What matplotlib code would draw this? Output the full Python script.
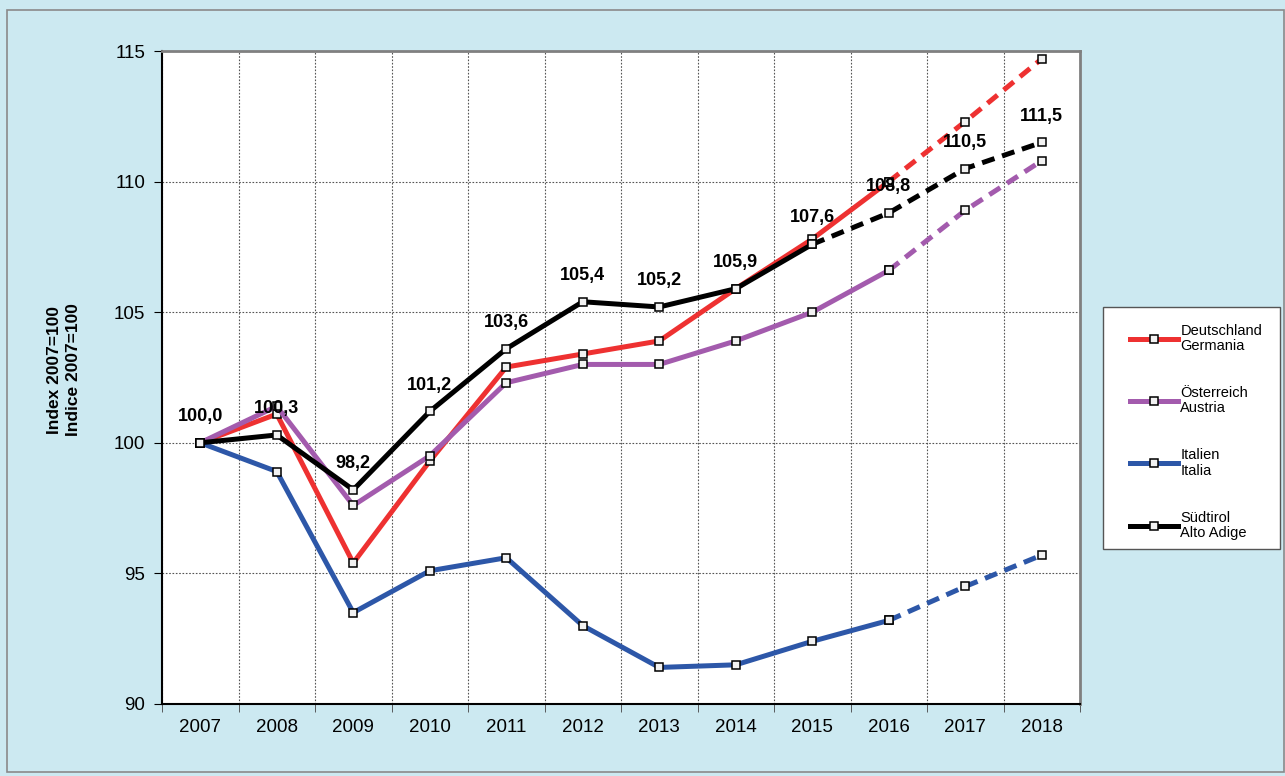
import matplotlib
matplotlib.use("Agg")
from matplotlib import pyplot as plt
from matplotlib.patches import Rectangle

years = ["2007", "2008", "2009", "2010", "2011", "2012",
         "2013", "2014", "2015", "2016", "2017", "2018"]

deutschland = [100.0, 101.1, 95.4, 99.3, 102.9, 103.4, 103.9, 105.9, 107.8, 110.0, 112.3, 114.7]
oesterreich = [100.0, 101.4, 97.6, 99.5, 102.3, 103.0, 103.0, 103.9, 105.0, 106.6, 108.9, 110.8]
italien = [100.0, 98.9, 93.5, 95.1, 95.6, 93.0, 91.4, 91.5, 92.4, 93.2, 94.5, 95.7]
suedtirol = [100.0, 100.3, 98.2, 101.2, 103.6, 105.4, 105.2, 105.9, 107.6, 108.8, 110.5, 111.5]

series_labels = ["Deutschland\nGermania", "Österreich\nAustria", "Italien\nItalia", "Südtirol\nAlto Adige"]
# last year with actual data (afterwards forecast, dashed)
last_actual = ["2016", "2016", "2016", "2015"]

colors = ["#EE3131", "#A35BAD", "#2D57A8", "#000000"]
BG = "#CCE9F1"
W, H = 1285, 776

plt.rcParams["font.family"] = ["Liberation Sans", "DejaVu Sans"]

fig = plt.figure(figsize=(W / 100, H / 100), dpi=100)
fig.patch.set_facecolor(BG)
# outer frame
fig.patches.append(Rectangle((7 / W, 4 / H), 1 - 8 / W, 1 - 14 / H,
                             transform=fig.transFigure, fill=False,
                             edgecolor="#8a8a8a", linewidth=1.2))
# legend box
fig.patches.append(Rectangle((1103 / W, 1 - 549 / H), 177 / W, 242 / H,
                             transform=fig.transFigure, facecolor="white",
                             edgecolor="#555555", linewidth=1.0, zorder=1))

ax = fig.add_axes([162 / W, 72 / H, 918 / W, 653 / H])
ax.set_facecolor("white")

x = list(range(len(years)))
marker_style = dict(marker="s", markersize=6, markerfacecolor="#f2f2f2",
                    markeredgecolor="black", markeredgewidth=1.1)

handles = []
all_series = [deutschland, oesterreich, italien, suedtirol]
for values, color, label, last in zip(all_series, colors, series_labels, last_actual):
    k = years.index(last)
    h, = ax.plot(x[:k + 1], values[:k + 1], color=color, linewidth=3.6,
                 label=label, zorder=3, **marker_style)
    ax.plot(x[k:], values[k:], color=color, linewidth=3.6, dashes=(2.6, 1.6),
            zorder=3, **marker_style)
    handles.append(h)

# value labels for Südtirol
for xi, v in zip(x, suedtirol):
    ax.annotate(f"{v:.1f}".replace(".", ","), (xi, v), xytext=(0, 19),
                textcoords="offset points", ha="center", va="center",
                fontsize=13, fontweight="bold", zorder=5)

ax.set_xlim(-0.5, len(years) - 0.5)
ax.set_ylim(90, 115)
ax.set_yticks([90, 95, 100, 105, 110, 115])
ax.set_xticks(x)
ax.set_xticklabels(years)
ax.set_xticks([i - 0.5 for i in range(len(years) + 1)], minor=True)
ax.tick_params(axis="x", which="major", length=0, pad=11, labelsize=13.5)
ax.tick_params(axis="x", which="minor", length=6, direction="out", color="#444")
ax.tick_params(axis="y", length=6, direction="out", pad=6, labelsize=13.5)

ax.grid(True, axis="x", which="minor", linestyle=(0, (1.5, 1.5)), color="#555", linewidth=0.8)
ax.grid(True, axis="y", which="major", linestyle=(0, (1.5, 1.5)), color="#555", linewidth=0.8)
ax.set_axisbelow(True)

for side in ["top", "right"]:
    ax.spines[side].set_color("#808080")
    ax.spines[side].set_linewidth(2)
for side in ["left", "bottom"]:
    ax.spines[side].set_color("black")
    ax.spines[side].set_linewidth(1.5)

fig.text(64 / W, 1 - 370 / H, "Index 2007=100\nIndice 2007=100", rotation=90,
         ha="center", va="center", fontsize=12.5, fontweight="bold",
         multialignment="center", linespacing=1.35)

leg = fig.legend(handles=handles, labels=series_labels, loc="upper left",
                 bbox_to_anchor=(1130 / W, 1 - 324 / H), borderaxespad=0,
                 fontsize=10.5, labelspacing=2.27, handlelength=3.3,
                 handletextpad=0.15, borderpad=0, frameon=False)
leg.set_zorder(2)
for t in leg.get_texts():
    t.set_linespacing(1.1)

fig.savefig("out.png", dpi=100, facecolor=BG)
